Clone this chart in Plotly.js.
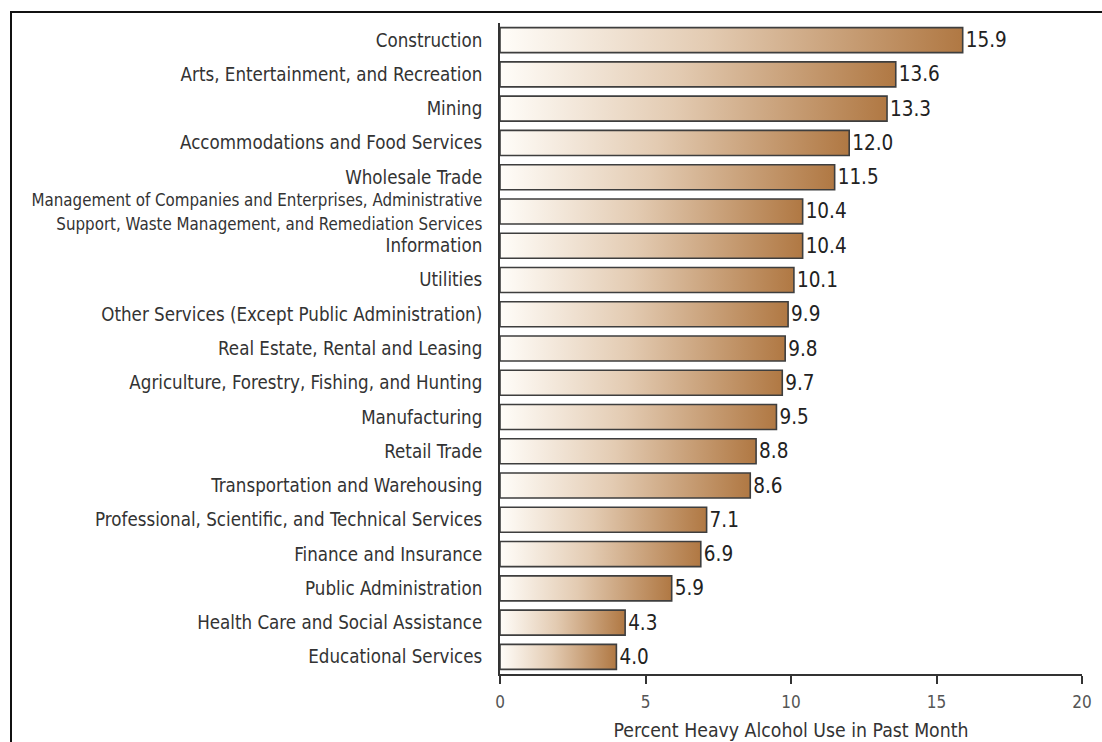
<!DOCTYPE html>
<html>
<head>
<meta charset="utf-8">
<script src="https://cdn.plot.ly/plotly-3.0.1.min.js"></script>
<style>
  html, body { margin: 0; padding: 0; background: #fff; }
  #wrap { position: relative; width: 1102px; height: 742px; overflow: hidden; }
  #chart { width: 1102px; height: 742px; }
  #frame { position: absolute; left: 10px; top: 11px; width: 1200px; height: 900px;
           border-left: 2px solid #111; border-top: 2px solid #111; pointer-events: none; }
</style>
</head>
<body>
<div id="wrap">
  <div id="chart"></div>
  <div id="frame"></div>
</div>
<script>
const industries = [
  "Construction",
  "Arts, Entertainment, and Recreation",
  "Mining",
  "Accommodations and Food Services",
  "Wholesale Trade",
  "Management of Companies and Enterprises, Administrative<br>Support, Waste Management, and Remediation Services",
  "Information",
  "Utilities",
  "Other Services (Except Public Administration)",
  "Real Estate, Rental and Leasing",
  "Agriculture, Forestry, Fishing, and Hunting",
  "Manufacturing",
  "Retail Trade",
  "Transportation and Warehousing",
  "Professional, Scientific, and Technical Services",
  "Finance and Insurance",
  "Public Administration",
  "Health Care and Social Assistance",
  "Educational Services"
];
const percentHeavyUse = [15.9, 13.6, 13.3, 12.0, 11.5, 10.4, 10.4, 10.1, 9.9, 9.8, 9.7, 9.5, 8.8, 8.6, 7.1, 6.9, 5.9, 4.3, 4.0];
const xTickValues = [0, 5, 10, 15, 20];
const xTitle = "Percent Heavy Alcohol Use in Past Month";

const FONT = "DejaVu Sans Condensed, DejaVu Sans, sans-serif";

const tickLabels = industries.map(s =>
  s.indexOf("<br>") >= 0 ? '<span style="font-size:16.8px">' + s + '</span>' : s);

const trace = {
  type: "bar",
  orientation: "h",
  y: industries,
  x: percentHeavyUse,
  marker: { color: "#b17a45", line: { color: "#3e3e3e", width: 1.6 } },
  text: percentHeavyUse.map(v => v.toFixed(1)),
  textposition: "outside",
  cliponaxis: false,
  textfont: { family: FONT, size: 20.5, color: "#222" },
  hoverinfo: "none"
};

const layout = {
  width: 1102, height: 742,
  margin: { l: 500, r: 20, t: 23, b: 68 },
  paper_bgcolor: "#fff", plot_bgcolor: "#fff",
  bargap: 0.27,
  showlegend: false,
  font: { family: FONT, color: "#333" },
  xaxis: {
    range: [0, 20],
    tickvals: xTickValues,
    ticktext: xTickValues.map(String),
    showgrid: false, zeroline: false,
    showline: true, linecolor: "#333", linewidth: 2,
    ticks: "outside", ticklen: 8, tickwidth: 2, tickcolor: "#333",
    ticklabelstandoff: 4,
    tickfont: { family: FONT, size: 17, color: "#555" },
    title: { text: xTitle, font: { family: FONT, size: 19.3, color: "#333" }, standoff: 14 }
  },
  yaxis: {
    type: "category",
    categoryorder: "array",
    categoryarray: industries,
    tickvals: industries,
    ticktext: tickLabels,
    range: [18.5, -0.5],
    showgrid: false, zeroline: false,
    showline: true, linecolor: "#333", linewidth: 2,
    ticks: "", ticklen: 0,
    ticklabelstandoff: 12,
    tickfont: { family: FONT, size: 18.6, color: "#333" },
    automargin: false
  }
};

Plotly.newPlot("chart", [trace], layout, { staticPlot: true, displayModeBar: false }).then(gd => {
  const svg = gd.querySelector("svg.main-svg");
  const ns = "http://www.w3.org/2000/svg";
  let defs = svg.querySelector("defs");
  if (!defs) { defs = document.createElementNS(ns, "defs"); svg.insertBefore(defs, svg.firstChild); }
  const grad = document.createElementNS(ns, "linearGradient");
  grad.setAttribute("id", "barGrad");
  grad.setAttribute("x1", "0"); grad.setAttribute("y1", "0");
  grad.setAttribute("x2", "1"); grad.setAttribute("y2", "0");
  [["0", "#fffdf9"], ["0.45", "#e3cbb2"], ["1", "#b07843"]].forEach(([o, c]) => {
    const st = document.createElementNS(ns, "stop");
    st.setAttribute("offset", o); st.setAttribute("stop-color", c);
    grad.appendChild(st);
  });
  defs.appendChild(grad);
  gd.querySelectorAll(".bars .point path").forEach(p => { p.style.fill = "url(#barGrad)"; });
});
</script>
</body>
</html>
